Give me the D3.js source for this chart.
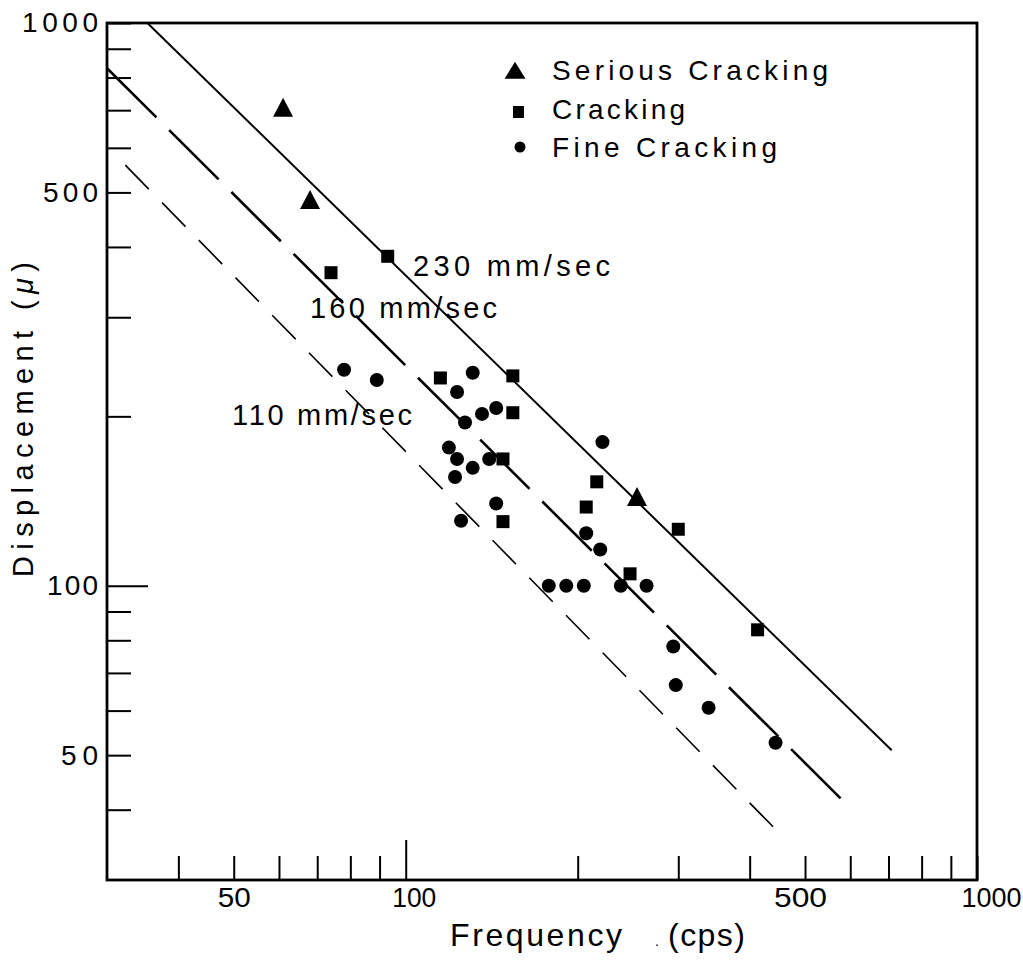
<!DOCTYPE html>
<html><head><meta charset="utf-8">
<script src="https://cdn.jsdelivr.net/npm/d3@7"></script>
<style>
body{margin:0;background:#fff}
text{font-family:"Liberation Sans",Arial,sans-serif;fill:#000}
</style></head><body>
<svg id="c" width="1023" height="960"></svg>
<script>
// ---- data ----
const seriousFreq=[61,68,254];
const seriousDisp=[703,482,143];
const crackFreq=[74,93,115,154,154,148,148,216,207,247,300,413];
const crackDisp=[360,385,234,236,203,168,130,153,138,105,126,83.5];
const fineFreq=[78,89,131,123,144,136,127,119,123,140,131,122,144,125,221,207,219,178,191,205,238,264,294,297,339,444];
const fineDisp=[242,232,239,221,207,202,195,176,168,168,162,156,140,130.5,180,124,116,100,100,100,100,100,78,66.6,60.7,52.6];
const lineLabels=["230 mm/sec","160 mm/sec","110 mm/sec"];
const lineFreq=[[35.3,709],[30,577],[32.3,439.6]];
const lineDisp=[[1000,51.0],[831,41.9],[559,37.3]];
const xTicks=[40,50,60,70,80,90,100,200,300,400,500,600,700,800,900,1000];
const xTickLabels=[50,100,500,1000];
const yTicks=[40,50,60,70,80,90,100,200,300,400,500,600,700,800,900,1000];
const yTickLabels=[50,100,500,1000];
const legendLabels=["Serious Cracking","Cracking","Fine Cracking"];

const svg=d3.select("#c");
const L=107,R=977,T=23,B=880;
const x=d3.scaleLog().domain([30,1000]).range([L,R]);
const y=d3.scaleLog().domain([30,1000]).range([B,T]);

// axes
const xa=svg.append("g").attr("transform",`translate(0,${B})`)
  .call(d3.axisBottom(x).tickValues(xTicks).tickSizeInner(-24).tickSizeOuter(0).tickPadding(7)
  .tickFormat(d=>xTickLabels.includes(d)?String(d):""));
xa.select(".domain").remove();
xa.selectAll(".tick line").attr("stroke","#000").attr("stroke-width",2).filter(d=>d===100).attr("y2",-40);
const xDx={50:0,100:8,500:-5,1000:14};
const xW={50:33,100:44,500:53,1000:60};
xa.selectAll(".tick text").attr("font-size",28).attr("fill","#000")
  .attr("dx",d=>xDx[d]||0)
  .attr("textLength",d=>xW[d]||null).attr("lengthAdjust","spacingAndGlyphs")
  .style("font-family","Liberation Sans, Arial, sans-serif");

const ya=svg.append("g").attr("transform",`translate(${L},0)`)
  .call(d3.axisLeft(y).tickValues(yTicks).tickSizeInner(-24).tickSizeOuter(0).tickPadding(9)
  .tickFormat(d=>yTickLabels.includes(d)?String(d):""));
ya.select(".domain").remove();
ya.selectAll(".tick line").attr("stroke","#000").attr("stroke-width",2).filter(d=>d===100).attr("x2",41);
const yW={50:37,100:51,500:55,1000:76};
ya.selectAll(".tick text").attr("font-size",28).attr("fill","#000")
  .attr("textLength",d=>yW[d]||null).attr("lengthAdjust","spacing")
  .style("font-family","Liberation Sans, Arial, sans-serif");

// frame
svg.append("rect").attr("x",L).attr("y",T).attr("width",R-L).attr("height",B-T)
  .attr("fill","none").attr("stroke","#000").attr("stroke-width",2.8);

// velocity lines
const lineStyles=[{w:2,dash:null},{w:2.6,dash:[68,18]},{w:1.6,dash:[33,19]}];
const lg=d3.line().x(d=>x(d[0])).y(d=>y(d[1]));
lineLabels.forEach((lab,i)=>{
  const pts=[[lineFreq[i][0],lineDisp[i][0]],[lineFreq[i][1],lineDisp[i][1]]];
  const p=svg.append("path").attr("d",lg(pts)).attr("fill","none").attr("stroke","#000")
    .attr("stroke-width",lineStyles[i].w);
  const ds=lineStyles[i].dash;
  if(ds){
    const len=p.node().getTotalLength();
    const n=Math.round((len+ds[1])/(ds[0]+ds[1]));
    const per=(len+ds[1])/n;
    p.attr("stroke-dasharray",`${per-ds[1]},${ds[1]}`);
  }
});
const labPos=[[413,276,197],[310,318,187],[232,425,180]];
lineLabels.forEach((lab,i)=>{
  svg.append("text").attr("x",labPos[i][0]).attr("y",labPos[i][1]).attr("font-size",29)
    .attr("textLength",labPos[i][2]).attr("lengthAdjust","spacing").text(lab);
});

// markers
function tri(cx,cy,w,h){return `M${cx},${cy-h*0.6}L${cx+w/2},${cy+h*0.4}L${cx-w/2},${cy+h*0.4}Z`;}
svg.append("g").selectAll("path").data(seriousFreq.map((f,i)=>[f,seriousDisp[i]])).join("path")
  .attr("d",d=>tri(x(d[0]),y(d[1]),20,19)).attr("fill","#000");
svg.append("g").selectAll("rect").data(crackFreq.map((f,i)=>[f,crackDisp[i]])).join("rect")
  .attr("x",d=>x(d[0])-6.5).attr("y",d=>y(d[1])-6.5).attr("width",13).attr("height",13).attr("fill","#000");
svg.append("g").selectAll("circle").data(fineFreq.map((f,i)=>[f,fineDisp[i]])).join("circle")
  .attr("cx",d=>x(d[0])).attr("cy",d=>y(d[1])).attr("r",7).attr("fill","#000");

// legend
const lgd=svg.append("g");
lgd.append("path").attr("d",tri(515,72,21,17)).attr("fill","#000");
lgd.append("rect").attr("x",513).attr("y",106).attr("width",11).attr("height",12).attr("fill","#000");
lgd.append("circle").attr("cx",520).attr("cy",147).attr("r",5.5).attr("fill","#000");
const legW=[276,133,225];
const legY=[80,119,157];
legendLabels.forEach((t,i)=>{
  lgd.append("text").attr("x",552).attr("y",legY[i]).attr("font-size",28)
    .attr("textLength",legW[i]).attr("lengthAdjust","spacing").text(t);
});

// axis titles
svg.append("text").attr("x",450).attr("y",946).attr("font-size",32)
  .attr("textLength",172).attr("lengthAdjust","spacing").text("Frequency");
svg.append("text").attr("x",655).attr("y",946).attr("font-size",14).text(".");
svg.append("text").attr("x",668).attr("y",946).attr("font-size",32)
  .attr("textLength",77).attr("lengthAdjust","spacing").text("(cps)");
const yt=svg.append("text").attr("transform","translate(33,577) rotate(-90)").attr("font-size",29);
yt.append("tspan").text("Displacement (");
yt.append("tspan").attr("font-style","italic").text("μ");
yt.append("tspan").text(")");
yt.attr("textLength",315).attr("lengthAdjust","spacing");
</script>
</body></html>
